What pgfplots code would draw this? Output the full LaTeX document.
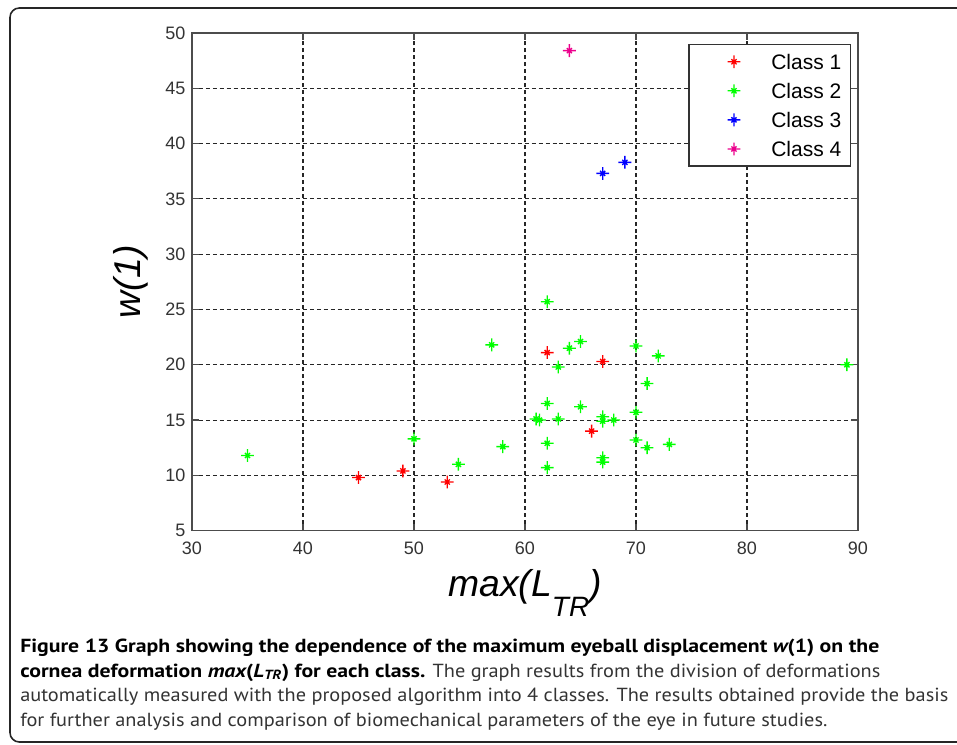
\documentclass[border=0pt]{standalone}
\usepackage{pgfplots}
\pgfplotsset{compat=1.18}
\usepackage{fontspec}
\setmainfont{Liberation Sans}
\newfontfamily\capfont[FakeStretch=1.074, BoldFeatures={FakeStretch=1.15}, BoldItalicFeatures={FakeStretch=1.15}]{PT Sans}
\pgfdeclareplotmark{sparkle}{%
  \pgfpathmoveto{\pgfqpoint{-\pgfplotmarksize}{0pt}}%
  \pgfpathlineto{\pgfqpoint{\pgfplotmarksize}{0pt}}%
  \pgfpathmoveto{\pgfqpoint{0pt}{-\pgfplotmarksize}}%
  \pgfpathlineto{\pgfqpoint{0pt}{\pgfplotmarksize}}%
  \pgfpathmoveto{\pgfqpoint{-0.4\pgfplotmarksize}{-0.4\pgfplotmarksize}}%
  \pgfpathlineto{\pgfqpoint{0.4\pgfplotmarksize}{0.4\pgfplotmarksize}}%
  \pgfpathmoveto{\pgfqpoint{-0.4\pgfplotmarksize}{0.4\pgfplotmarksize}}%
  \pgfpathlineto{\pgfqpoint{0.4\pgfplotmarksize}{-0.4\pgfplotmarksize}}%
  \pgfusepathqstroke}
\begin{document}
\begin{tikzpicture}[x=0.75pt,y=0.75pt]
\useasboundingbox (0,0) rectangle (957,744);
\clip (0,0) rectangle (957,744);
\draw[line width=1.2pt, black!85, rounded corners=7pt] (10,2) rectangle (1000,736);
\begin{axis}[
  at={(144pt,160pt)}, anchor=south west,
  scale only axis, width=499.5pt, height=373.3pt,
  xmin=30, xmax=90, ymin=5, ymax=50,
  xtick={30,40,...,90}, ytick={5,10,...,50},
  grid=major,
  major grid style={black!85, line width=0.8pt, dash pattern=on 3pt off 2.2pt},
  tick align=inside, major tick length=5pt,
  axis line style={draw=black!70, line width=1.1pt},
  tick style={black!70, line width=0.9pt},
  ticklabel style={font=\fontsize{13.5}{14}\selectfont, text=black!80},
  xticklabel style={yshift=-5pt},
  yticklabel style={xshift=-1.5pt},
  /pgf/number format/assume math mode=true,
  xlabel={\itshape max(L\raisebox{-0.55em}{\fontsize{21}{22}\selectfont TR})},
  ylabel={\itshape w(1)},
  label style={font=\fontsize{28}{30}\selectfont},
  xlabel style={yshift=-4pt},
  ylabel style={yshift=6.25pt},
  legend style={at={(axis description cs:1,1)}, anchor=north east,
    xshift=-5.25pt, yshift=-8.25pt, draw=black!80, line width=1pt,
    font=\fontsize{15.75}{17}\selectfont, inner xsep=6.75pt, inner ysep=3.5pt,
    nodes={inner sep=0pt, text height=14.8pt, text depth=3.9pt},
    row sep=3.1pt, column sep=0pt},
  legend cell align=left,
  legend image code/.code={\path[draw=none,fill=none] (0pt,0pt) rectangle (55pt,1pt);
    \draw[#1] plot coordinates {(27pt,0pt)};},
]
\addplot[only marks, mark=sparkle, mark size=4.8pt, red, line width=1pt] coordinates {
(45,9.8) (49,10.4) (53,9.4) (62,21.1) (66,14.0) (67,20.3)};
\addlegendentry{Class 1}
\addplot[only marks, mark=sparkle, mark size=4.8pt, green, line width=1pt] coordinates {
(35,11.8) (50,13.3) (54,11.0) (57,21.8) (58,12.6) (61,15.1) (61.3,15.0)
(62,25.7) (62,16.5) (62,12.9) (62,10.7) (63,19.8) (63,15.1) (64,21.5)
(65,22.1) (65,16.2) (67,15.3) (67,14.9) (67,11.6) (67,11.2) (68,15.0)
(70,21.7) (70,15.7) (70,13.2) (71,18.3) (71,12.5) (72,20.8) (73,12.8) (89,20.0)};
\addlegendentry{Class 2}
\addplot[only marks, mark=sparkle, mark size=4.8pt, blue, line width=1pt] coordinates {
(67,37.3) (69,38.3)};
\addlegendentry{Class 3}
\addplot[only marks, mark=sparkle, mark size=4.8pt, magenta, line width=1pt] coordinates {
(64,48.4)};
\addlegendentry{Class 4}
\end{axis}
\node[anchor=base west, inner sep=0pt, font=\capfont\fontsize{14.2}{16}\selectfont] at (20,92) {\bfseries Figure 13 Graph showing the dependence of the maximum eyeball displacement {\itshape w}(1) on the};
\node[anchor=base west, inner sep=0pt, font=\capfont\fontsize{14.2}{16}\selectfont] at (20,67) {{\bfseries cornea deformation {\itshape max}({\itshape L\textsubscript{TR}}) for each class.} \color{black!80}The graph results from the division of deformations};
\node[anchor=base west, inner sep=0pt, font=\capfont\fontsize{14.2}{16}\selectfont, text=black!80] at (20,42.5) {automatically measured with the proposed algorithm into 4 classes. The results obtained provide the basis};
\node[anchor=base west, inner sep=0pt, font=\capfont\fontsize{14.2}{16}\selectfont, text=black!80] at (20,18) {for further analysis and comparison of biomechanical parameters of the eye in future studies.};
\end{tikzpicture}
\end{document}
